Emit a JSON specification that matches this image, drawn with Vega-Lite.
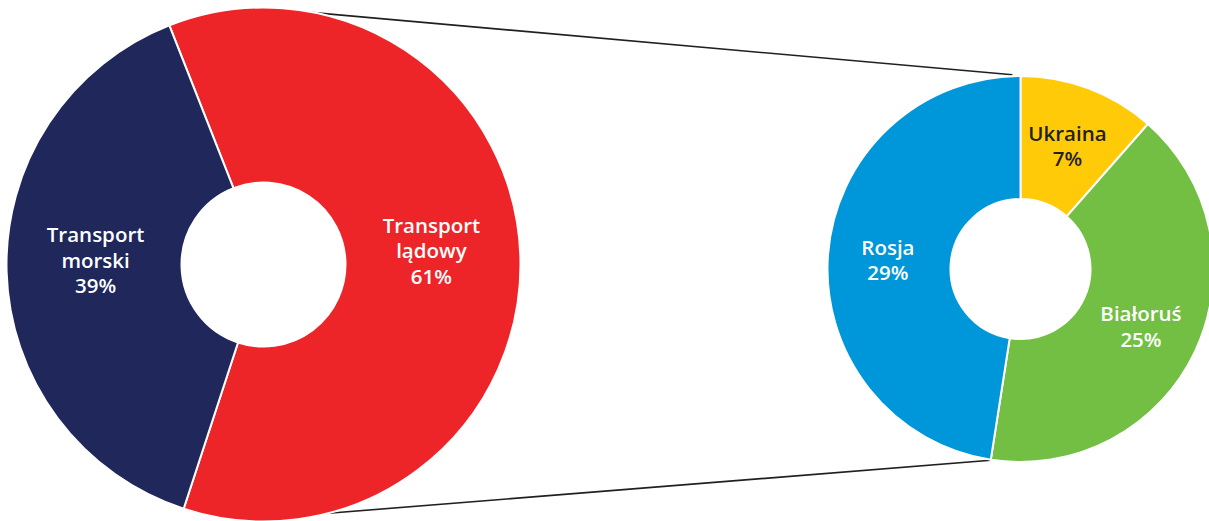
{
  "$schema": "https://vega.github.io/schema/vega-lite/v6.json",
  "width": 1209,
  "height": 521,
  "autosize": {"type": "fit", "contains": "padding"},
  "padding": 0,
  "background": "white",
  "config": {"view": {"stroke": null}},
  "datasets": {
    "udzialy": [
      {"wykres": "ogółem", "name": "Transport lądowy", "value": 61, "ord": 1},
      {"wykres": "ogółem", "name": "Transport morski", "value": 39, "ord": 2},
      {"wykres": "lądowy", "name": "Ukraina", "value": 7, "ord": 1},
      {"wykres": "lądowy", "name": "Białoruś", "value": 25, "ord": 2},
      {"wykres": "lądowy", "name": "Rosja", "value": 29, "ord": 3}
    ],
    "laczniki": [
      {"x": 313, "y": 12.5, "x2": 1020, "y2": 75.5},
      {"x": 290, "y": 521.5, "x2": 1020, "y2": 463}
    ]
  },
  "layer": [
    {
      "data": {"name": "laczniki"},
      "mark": {"type": "rule", "color": "#231f20", "strokeWidth": 1.6},
      "encoding": {
        "x": {"field": "x", "type": "quantitative", "scale": {"domain": [0, 1209], "nice": false, "zero": false}, "axis": null},
        "y": {"field": "y", "type": "quantitative", "scale": {"domain": [521, 0], "nice": false, "zero": false}, "axis": null},
        "x2": {"field": "x2"},
        "y2": {"field": "y2"}
      }
    },
    {
      "data": {"name": "udzialy"},
      "transform": [
        {"calculate": "replace(datum.name, ' ', '\\n') + '\\n' + datum.value + '%'", "as": "label"}
      ],
      "encoding": {
        "x": {"field": "wykres", "type": "nominal", "scale": {"domain": ["ogółem", "lądowy"], "range": [263.5, 1020.5], "padding": 0}, "axis": null},
        "y": {"field": "wykres", "type": "nominal", "scale": {"domain": ["ogółem", "lądowy"], "range": [264.5, 269], "padding": 0}, "axis": null}
      },
      "layer": [
        {
          "transform": [{"filter": "datum.wykres === 'ogółem'"}],
          "mark": {"type": "arc", "radius": 257, "innerRadius": 82, "stroke": "white", "strokeWidth": 2},
          "encoding": {
            "theta": {"field": "value", "type": "quantitative", "stack": true, "scale": {"range": [-0.3752, 5.908]}},
            "order": {"field": "ord"},
            "color": {
              "field": "name", "type": "nominal", "legend": null,
              "scale": {
                "domain": ["Transport lądowy", "Transport morski", "Ukraina", "Białoruś", "Rosja"],
                "range": ["#ee2528", "#1f275b", "#ffca08", "#72bf44", "#0096da"]
              }
            }
          }
        },
        {
          "transform": [{"filter": "datum.wykres === 'ogółem'"}],
          "mark": {"type": "text", "radius": 168, "dy": -33, "font": "Open Sans", "fontWeight": 600, "fontSize": 20.5, "lineBreak": "\n", "lineHeight": 25.5, "fill": "white", "align": "center", "baseline": "middle"},
          "encoding": {
            "theta": {"field": "value", "type": "quantitative", "stack": true, "scale": {"range": [-0.3752, 5.908]}},
            "order": {"field": "ord"},
            "text": {"field": "label", "type": "nominal"}
          }
        },
        {
          "transform": [{"filter": "datum.wykres === 'lądowy'"}],
          "mark": {"type": "arc", "radius": 193, "innerRadius": 70, "stroke": "white", "strokeWidth": 2},
          "encoding": {
            "theta": {"field": "value", "type": "quantitative", "stack": true, "scale": {"range": [0, 6.2832]}},
            "order": {"field": "ord"},
            "color": {"field": "name", "type": "nominal", "legend": null}
          }
        },
        {
          "transform": [{"filter": "datum.wykres === 'lądowy'"}],
          "mark": {"type": "text", "radius": 133, "dy": -10, "font": "Open Sans", "fontWeight": 600, "fontSize": 20.5, "lineBreak": "\n", "lineHeight": 25.5, "align": "center", "baseline": "middle"},
          "encoding": {
            "theta": {"field": "value", "type": "quantitative", "stack": true, "scale": {"range": [0, 6.2832]}},
            "order": {"field": "ord"},
            "text": {"field": "label", "type": "nominal"},
            "color": {"condition": {"test": "datum.name === 'Ukraina'", "value": "#231f20"}, "value": "white"}
          }
        }
      ],
      "resolve": {"scale": {"theta": "independent"}}
    }
  ],
  "resolve": {"scale": {"x": "independent", "y": "independent"}}
}
